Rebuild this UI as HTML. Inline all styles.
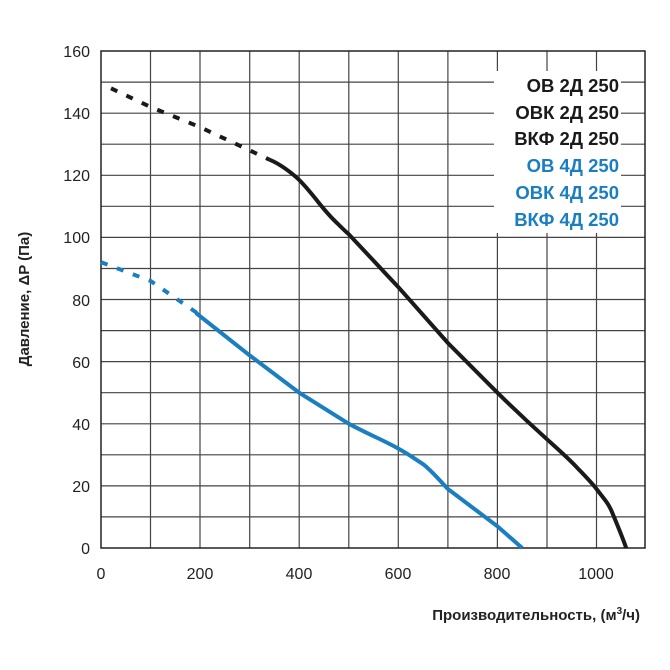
<!DOCTYPE html>
<html><head><meta charset="utf-8"><style>
html,body{margin:0;padding:0;background:#fff;}
svg{display:block;font-family:"Liberation Sans",Arial,sans-serif;}
</style></head><body>
<svg width="670" height="670" viewBox="0 0 670 670">
<g stroke="#444" stroke-width="1.2">
<line x1="101" y1="82.1" x2="645" y2="82.1"/><line x1="101" y1="113.2" x2="645" y2="113.2"/>
<line x1="101" y1="144.2" x2="645" y2="144.2"/><line x1="101" y1="175.3" x2="645" y2="175.3"/>
<line x1="101" y1="206.3" x2="645" y2="206.3"/><line x1="101" y1="237.4" x2="645" y2="237.4"/>
<line x1="101" y1="268.5" x2="645" y2="268.5"/><line x1="101" y1="299.5" x2="645" y2="299.5"/>
<line x1="101" y1="330.6" x2="645" y2="330.6"/><line x1="101" y1="361.6" x2="645" y2="361.6"/>
<line x1="101" y1="392.7" x2="645" y2="392.7"/><line x1="101" y1="423.8" x2="645" y2="423.8"/>
<line x1="101" y1="454.8" x2="645" y2="454.8"/><line x1="101" y1="485.9" x2="645" y2="485.9"/>
<line x1="101" y1="516.9" x2="645" y2="516.9"/>
<line x1="150.5" y1="51" x2="150.5" y2="548"/><line x1="200" y1="51" x2="200" y2="548"/>
<line x1="249.7" y1="51" x2="249.7" y2="548"/><line x1="299.2" y1="51" x2="299.2" y2="548"/>
<line x1="348.8" y1="51" x2="348.8" y2="548"/><line x1="398.3" y1="51" x2="398.3" y2="548"/>
<line x1="447.9" y1="51" x2="447.9" y2="548"/><line x1="497.4" y1="51" x2="497.4" y2="548"/>
<line x1="547" y1="51" x2="547" y2="548"/><line x1="596.5" y1="51" x2="596.5" y2="548"/>
</g>
<rect x="101" y="51" width="544" height="497" fill="none" stroke="#222" stroke-width="1.5"/>
<g font-size="16" fill="#222" text-anchor="end">
<text x="90" y="57">160</text><text x="90" y="119">140</text><text x="90" y="181">120</text>
<text x="90" y="243">100</text><text x="90" y="306">80</text><text x="90" y="368">60</text>
<text x="90" y="430">40</text><text x="90" y="492">20</text><text x="90" y="554">0</text>
</g>
<g font-size="16" fill="#222" text-anchor="middle">
<text x="101" y="579">0</text><text x="200" y="579">200</text><text x="299" y="579">400</text>
<text x="398" y="579">600</text><text x="497" y="579">800</text><text x="596" y="579">1000</text>
</g>
<text x="29" y="299" font-size="15" font-weight="bold" fill="#222" text-anchor="middle" transform="rotate(-90 29 299)">Давление, ΔP (Па)</text>
<text x="640" y="620" font-size="15" font-weight="bold" fill="#222" text-anchor="end">Производительность, (м<tspan font-size="10" dy="-6">3</tspan><tspan dy="6">/ч)</tspan></text>
<g fill="none" stroke-width="4">
<polyline stroke="#1a1a1a" stroke-dasharray="7,10" points="111,88.3 150.5,107 200,127.1 249.7,150.4 269.5,159.7"/>
<path stroke="#1a1a1a" d="M269.5,159.7 C280,164 289,171 296,177 C303,183 309,190.8 315,198 C322,207 329,215.7 338,224 C343,229 345,231 348.8,234.3 L398.3,287.1 L447.9,343 L497.4,392.7 C515,410 530,424 547,439.3 C560,451 568,458 576.7,467.2 C586,477 592,483 596.5,489 C605,500 608,503 611.4,510.7 C617,524 622,536 626.2,548"/>
<polyline stroke="#1a7fc1" stroke-dasharray="7,10" points="101,262.2 150.5,280.9 200,315"/>
<path stroke="#1a7fc1" d="M196,313 L249.7,355.4 L299.2,392.7 L348.8,423.8 C370,435 385,441 398.3,448.6 C410,455 415,459 423,464.1 C433,472 440,481 447.9,489 L497.4,526.3 L522.2,548"/>
</g>
<rect x="494" y="71" width="127" height="162" fill="#fff"/>
<g font-size="18.5" font-weight="bold" text-anchor="end">
<text x="619" y="92" fill="#1a1a1a">ОВ 2Д 250</text>
<text x="619" y="119" fill="#1a1a1a">ОВК 2Д 250</text>
<text x="619" y="145" fill="#1a1a1a">ВКФ 2Д 250</text>
<text x="619" y="172" fill="#1a7fc1">ОВ 4Д 250</text>
<text x="619" y="199" fill="#1a7fc1">ОВК 4Д 250</text>
<text x="619" y="226" fill="#1a7fc1">ВКФ 4Д 250</text>
</g>
</svg>
</body></html>
